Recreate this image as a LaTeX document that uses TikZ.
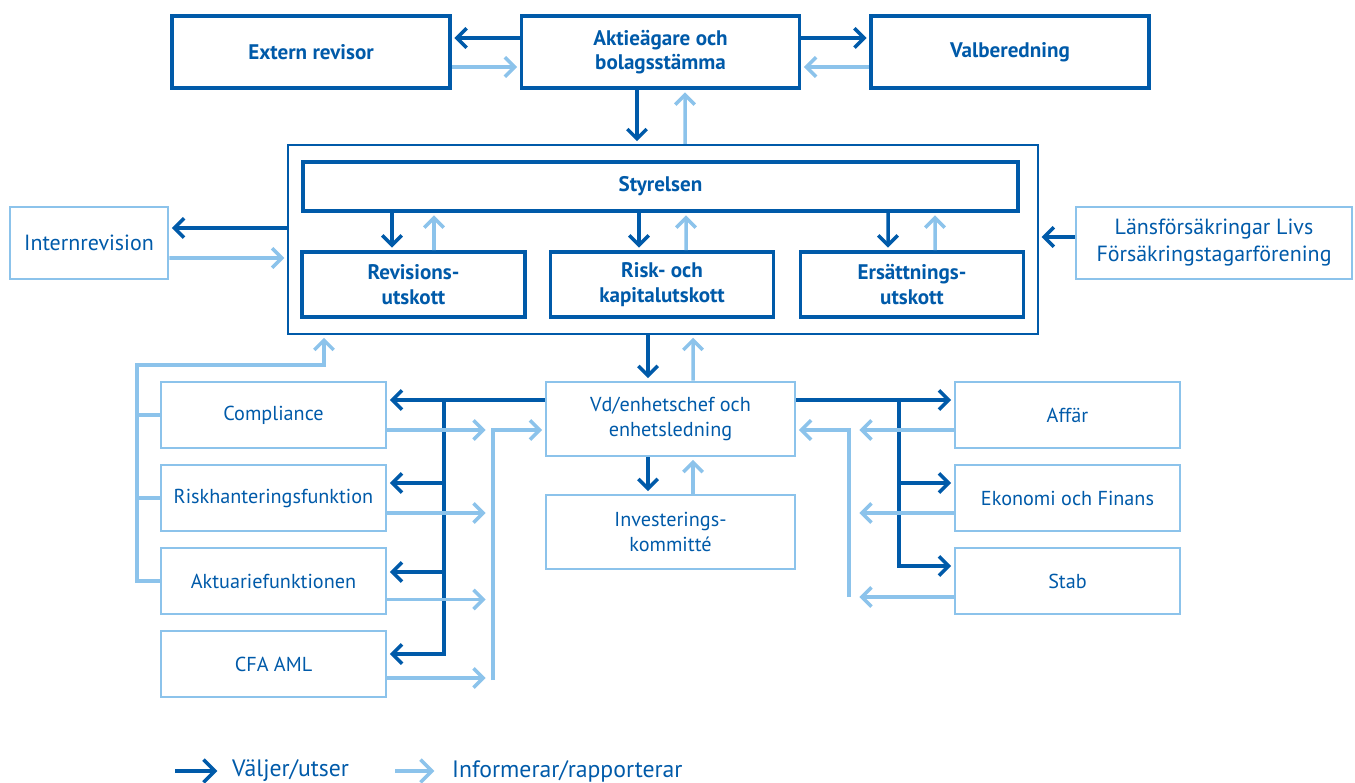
\documentclass[tikz,border=0pt]{standalone}
\usepackage{fontspec}
\setmainfont{PT Sans}
\usetikzlibrary{arrows.meta, positioning, calc}
\definecolor{lfdark}{RGB}{0,90,169}
\definecolor{lflight}{RGB}{140,195,235}

\begin{document}
\begin{tikzpicture}[
    x=0.02cm, y=0.02cm,
    every node/.style={text=lfdark},
    board/.style={
        rectangle, draw=lfdark, line width=2.1pt,
        minimum width=5.56cm, minimum height=1.44cm, align=center,
        font=\fontsize{12}{14}\selectfont\bfseries
    },
    committee/.style={
        board, minimum width=4.46cm, minimum height=1.3cm
    },
    unit/.style={
        rectangle, draw=lflight, line width=1.5pt,
        minimum width=4.5cm, minimum height=1.32cm, align=center,
        font=\fontsize{11.5}{14}\selectfont
    },
    outside/.style={
        unit, minimum height=1.44cm, font=\fontsize{12.5}{15.4}\selectfont
    },
    legend/.style={font=\fontsize{13.5}{16}\selectfont},
    chooses/.style={draw=lfdark, line width=2pt,
        -{Straight Barb[length=5.5pt,width=11pt]}, shorten >=1.5pt},
    informs/.style={draw=lflight, line width=2pt,
        -{Straight Barb[length=5.5pt,width=11pt]}, shorten >=1.5pt},
    informline/.style={draw=lflight, line width=2pt}
]
\useasboundingbox (0,0) rectangle (1355,-783);

% Owners
\node[board] (extrev) at (311,-52) {Extern revisor};
\node[board] (aga) at (660.5,-52) {Aktieägare och\\bolagsstämma};
\node[board] (valb) at (1010,-52) {Valberedning};

% Board and committees
\node[draw=lfdark, line width=1.3pt, minimum width=15cm, minimum height=3.78cm] (frame) at (663,-239.5) {};
\node[board, minimum width=14.3cm, minimum height=0.98cm] (styr) at (660.5,-186.5) {Styrelsen};
\node[committee] (revu) at (413.5,-284.5) {Revisions-\\utskott};
\node[committee] (risku) at (662,-284.5) {Risk- och\\kapitalutskott};
\node[committee] (ersu) at (912,-284.5) {Ersättnings-\\utskott};

% Outside the board
\node[outside, minimum width=3.16cm] (intrev) at (89,-243) {Internrevision};
\node[outside, minimum width=5.52cm] (lf) at (1214,-243) {Länsförsäkringar Livs\\Försäkringstagarförening};

% Management
\node[unit, minimum width=4.98cm, minimum height=1.48cm] (vd) at (670.5,-419) {Vd/enhetschef och\\enhetsledning};
\node[unit, minimum width=4.98cm, minimum height=1.48cm] (inv) at (670.5,-532) {Investerings-\\kommitté};

% Control functions
\node[unit] (compl) at (273.5,-415) {Compliance};
\node[unit] (riskh) at (273.5,-498) {Riskhanteringsfunktion};
\node[unit] (aktu) at (273.5,-581) {Aktuariefunktionen};
\node[unit] (cfa) at (273.5,-664) {CFA AML};

% Business units
\node[unit] (affar) at (1067.5,-415) {Affär};
\node[unit] (ekon) at (1067.5,-498) {Ekonomi och Finans};
\node[unit] (stab) at (1067.5,-581) {Stab};

% Bus points
\coordinate (lbus) at (444,-400);
\coordinate (lrep) at (493,-680);
\coordinate (ltop) at (137,-365);
\coordinate (rbus) at (899,-400);
\coordinate (rrep) at (849,-597);

% Top row
\draw[chooses] ($(aga.west)+(0,14)$) -- ($(extrev.east)+(0,14)$);
\draw[informs] ($(extrev.east)+(0,-15)$) -- ($(aga.west)+(0,-15)$);
\draw[chooses] ($(aga.east)+(0,14)$) -- ($(valb.west)+(0,14)$);
\draw[informs] ($(valb.west)+(0,-15)$) -- ($(aga.east)+(0,-15)$);
\draw[chooses] ($(aga.south)+(-23.5,0)$) -- ($(frame.north)+(-26,0)$);
\draw[informs] ($(frame.north)+(22,0)$) -- ($(aga.south)+(24.5,0)$);

% Board to committees
\draw[chooses] ($(styr.south)+(-268.5,0)$) -- ($(revu.north)+(-21.5,0)$);
\draw[informs] ($(revu.north)+(20.5,0)$) -- ($(styr.south)+(-226.5,0)$);
\draw[chooses] ($(styr.south)+(-21.5,0)$) -- ($(risku.north)+(-23,0)$);
\draw[informs] ($(risku.north)+(24,0)$) -- ($(styr.south)+(25.5,0)$);
\draw[chooses] ($(styr.south)+(227.5,0)$) -- ($(ersu.north)+(-24,0)$);
\draw[informs] ($(ersu.north)+(23,0)$) -- ($(styr.south)+(274.5,0)$);

% Sides
\draw[chooses] ($(frame.west)+(0,11.5)$) -- ($(intrev.east)+(0,15)$);
\draw[informs] ($(intrev.east)+(0,-15)$) -- ($(frame.west)+(0,-18.5)$);
\draw[chooses] ($(lf.west)+(0,6)$) -- ($(frame.east)+(0,2.5)$);

% Board to management
\draw[chooses] ($(frame.south)+(-15,0)$) -- ($(vd.north)+(-22.5,0)$);
\draw[informs] ($(vd.north)+(22.5,0)$) -- ($(frame.south)+(30,0)$);
\draw[chooses] ($(vd.south)+(-22.5,0)$) -- ($(inv.north)+(-22.5,0)$);
\draw[informs] ($(inv.north)+(22.5,0)$) -- ($(vd.south)+(22.5,0)$);

% Management to control functions
\draw[chooses] ($(vd.west)+(0,19)$) -- ($(compl.east)+(0,15)$);
\draw[chooses] (lbus) |- ($(cfa.east)+(0,10)$);
\draw[chooses] ($(riskh.east)+(58,15)$) -- ($(riskh.east)+(0,15)$);
\draw[chooses] ($(aktu.east)+(58,9)$) -- ($(aktu.east)+(0,9)$);
\draw[informs] ($(compl.east)+(0,-15)$) -- ($(compl.east)+(101,-15)$);
\draw[informs] ($(riskh.east)+(0,-15)$) -- ($(riskh.east)+(101,-15)$);
\draw[informs] ($(aktu.east)+(0,-18.5)$) -- ($(aktu.east)+(101,-18.5)$);
\draw[informs] ($(cfa.east)+(0,-14)$) -- ($(cfa.east)+(101,-14)$);
\draw[informs] (lrep) |- ($(vd.west)+(0,-11)$);
\draw[informline] (compl.west) -- (compl.west -| ltop);
\draw[informline] (riskh.west) -- (riskh.west -| ltop);
\draw[informs] (aktu.west) -| (ltop) -| ($(frame.south)+(-339,0)$);

% Management to business units
\draw[chooses] ($(vd.east)+(0,19)$) -- ($(affar.west)+(0,15)$);
\draw[chooses] (rbus) |- ($(stab.west)+(0,15)$);
\draw[chooses] ($(ekon.west)+(-56,15)$) -- ($(ekon.west)+(0,15)$);
\draw[informs] ($(affar.west)+(0,-15)$) -- ($(affar.west)+(-97,-15)$);
\draw[informs] ($(ekon.west)+(0,-15)$) -- ($(ekon.west)+(-97,-15)$);
\draw[informs] ($(stab.west)+(0,-16)$) -- ($(stab.west)+(-97,-16)$);
\draw[informs] (rrep) |- ($(vd.east)+(0,-11)$);

% Legend
\node[legend, anchor=west] (lgchoose) at (226,-771) {Väljer/utser};
\node[legend, anchor=west] (lginform) at (446,-771) {Informerar/rapporterar};
\draw[chooses, -{Straight Barb[length=6.5pt,width=13pt]}] ($(lgchoose.west)+(-51,0)$) -- ($(lgchoose.west)+(-6,0)$);
\draw[informs, -{Straight Barb[length=6.5pt,width=13pt]}] ($(lginform.west)+(-51,0)$) -- ($(lginform.west)+(-9,0)$);

\end{tikzpicture}
\end{document}
